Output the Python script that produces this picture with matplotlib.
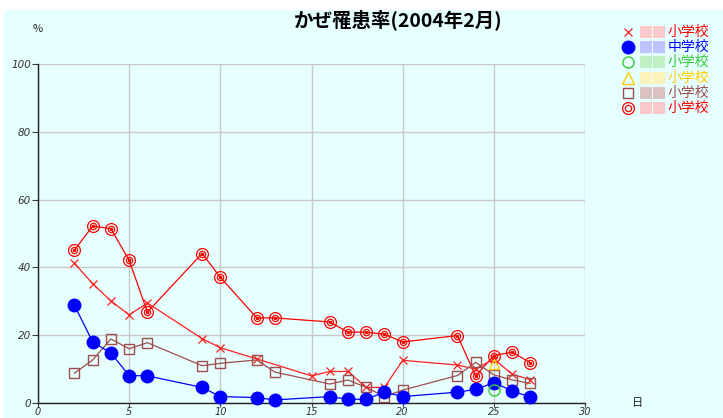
import matplotlib
matplotlib.use("Agg")
import matplotlib.pyplot as plt
from matplotlib.patches import Rectangle
from matplotlib.lines import Line2D

plt.rcParams['font.family'] = ['Noto Sans CJK JP', 'DejaVu Sans']

### DATA ###
title = "かぜ罹患率(2004年2月)"
x_ticks = [0, 5, 10, 15, 20, 25, 30]
y_ticks = [0, 20, 40, 60, 80, 100]

# school 1 (x markers) - measured day 15 instead of 13/16 gap
days_cross = [2, 3, 4, 5, 6, 9, 10, 12, 15, 16, 17, 18, 19, 20, 23, 24, 25, 26, 27]
vals_cross = [41.2, 35.2, 30.1, 26.0, 29.5, 19.0, 16.3, 13.0, 8.0, 9.3, 9.3, 4.6, 4.6,
              12.6, 11.2, 10.0, 13.0, 8.5, 6.9]

days_main = [2, 3, 4, 5, 6, 9, 10, 12, 13, 16, 17, 18, 19, 20, 23, 24, 25, 26, 27]
vals_blue = [28.8, 18.0, 14.7, 8.1, 8.0, 4.6, 1.9, 1.6, 0.9, 1.9, 1.1, 1.1, 3.2, 1.9,
             3.2, 4.0, 6.0, 3.6, 1.7]
vals_square = [8.8, 12.7, 18.9, 16.0, 17.8, 11.0, 11.7, 12.7, 9.1, 5.6, 6.8, 4.6, 1.9,
               3.8, 8.1, 12.0, 8.3, 6.8, 5.8]
vals_double = [45.1, 52.2, 51.4, 42.1, 26.8, 44.1, 37.1, 25.1, 25.1, 23.9, 20.9, 20.9,
               20.3, 18.0, 19.9, 8.0, 14.0, 15.0, 11.9]

days_green = [25]
vals_green = [3.8]
days_yellow = [25]
vals_yellow = [11.5]

legend_labels = ["小学校", "中学校", "小学校", "小学校", "小学校", "小学校"]

### COLOURS ###
c_red = '#ff2020'
c_blue = '#0000ff'
c_green = '#33cc33'
c_yellow = '#ffcc00'
c_brown = '#a04c4c'
c_dred = '#ff0000'

### FIGURE ###
fig = plt.figure(figsize=(7.23, 4.18), dpi=100)
fig.patch.set_facecolor('white')
fig.add_artist(Rectangle((4 / 723, 0), 1, 408 / 418, transform=fig.transFigure,
                         facecolor='#e6ffff', edgecolor='none', zorder=-10))

ax = fig.add_axes([38 / 723, 15 / 418, 547 / 723, 339 / 418])
ax.set_facecolor('none')
ax.set_xlim(0, 30)
ax.set_ylim(0, 100)
ax.set_xticks(x_ticks)
ax.set_yticks(y_ticks)
ax.grid(True, color='#c8c8c8', linewidth=1.0)
ax.set_axisbelow(True)
for s in ['top', 'right']:
    ax.spines[s].set_visible(False)
for s in ['left', 'bottom']:
    ax.spines[s].set_color('#202020')
    ax.spines[s].set_linewidth(1.0)
ax.tick_params(axis='y', length=4, width=0.8, color='#404040', labelsize=7.5,
               labelcolor='#333333', pad=1)
ax.tick_params(axis='x', length=3, width=0.8, color='#404040', labelsize=7,
               labelcolor='#333333', pad=0)
for lab in ax.get_xticklabels() + ax.get_yticklabels():
    lab.set_fontstyle('italic')
    lab.set_family('DejaVu Sans')

# series
ax.plot(days_main, vals_double, color=c_dred, lw=0.9, marker='o', ms=8.5,
        mfc='none', mec=c_dred, mew=0.9, clip_on=False, zorder=3)
ax.plot(days_main, vals_double, ls='none', marker='o', ms=4.5,
        mfc='none', mec=c_dred, mew=0.9, clip_on=False, zorder=3)
ax.plot(days_main, vals_double, ls='none', marker='o', ms=1.5,
        mfc=c_dred, mec=c_dred, clip_on=False, zorder=3)
ax.plot(days_cross, vals_cross, color=c_red, lw=0.9, marker='x', ms=6,
        mew=0.9, clip_on=False, zorder=4)
ax.plot(days_main, vals_square, color=c_brown, lw=0.9, marker='s', ms=7.5,
        mfc='none', mec=c_brown, mew=1.0, clip_on=False, zorder=4)
ax.plot(days_yellow, vals_yellow, color=c_yellow, ls='none', marker='^', ms=7.5,
        mfc='none', mew=1.0, clip_on=False, zorder=4)
ax.plot(days_main, vals_blue, color=c_blue, lw=0.9, marker='o', ms=9,
        mfc=c_blue, mec=c_blue, clip_on=False, zorder=5)
ax.plot(days_green, vals_green, color=c_green, ls='none', marker='o', ms=8,
        mfc='none', mew=1.0, clip_on=False, zorder=6)

# title and axis units
fig.text(398 / 723, 1 - 20 / 418, title, ha='center', va='center', fontsize=14,
         fontweight='bold', color='black')
fig.text(38 / 723, 1 - 29 / 418, '%', ha='center', va='center', fontsize=8,
         color='#202020')
fig.text(638 / 723, 1 - 403 / 418, '日', ha='center', va='center', fontsize=8,
         color='#202020')

# legend (names blurred in original)
leg_markers = [
    dict(marker='x', color=c_red, mfc='none', ms=6, mew=0.9),
    dict(marker='o', color=c_blue, mfc=c_blue, ms=9),
    dict(marker='o', color=c_green, mfc='none', ms=8, mew=1.0),
    dict(marker='^', color=c_yellow, mfc='none', ms=8, mew=1.0),
    dict(marker='s', color=c_brown, mfc='none', ms=7.5, mew=1.0),
    dict(marker='o', color=c_dred, mfc='none', ms=8.5, mew=0.9),
]
leg_text_colors = [c_dred, c_blue, c_green, c_yellow, c_brown, c_dred]
blur_colors = ['#ffc0c0', '#b8b8ff', '#b8eeb8', '#fff2b0', '#dab8b8', '#ffc0c0']
for i, (m, tc, bc, lab) in enumerate(zip(leg_markers, leg_text_colors, blur_colors,
                                          legend_labels)):
    yy = 1 - (32 + 15.2 * i) / 418
    fig.add_artist(Line2D([628 / 723], [yy], ls='none', transform=fig.transFigure, **m))
    if i == 5:
        fig.add_artist(Line2D([628 / 723], [yy], ls='none', marker='o', ms=4.5,
                              mfc='none', mec=c_dred, mew=0.9, transform=fig.transFigure))
    for xb in [640, 653]:
        fig.add_artist(Rectangle((xb / 723, yy - 6 / 418), 12 / 723, 12 / 418,
                                 transform=fig.transFigure, facecolor=bc,
                                 edgecolor='none', alpha=0.85))
    fig.text(668 / 723, yy, lab, ha='left', va='center', fontsize=10, color=tc)

fig.savefig('out.png', dpi=100)
